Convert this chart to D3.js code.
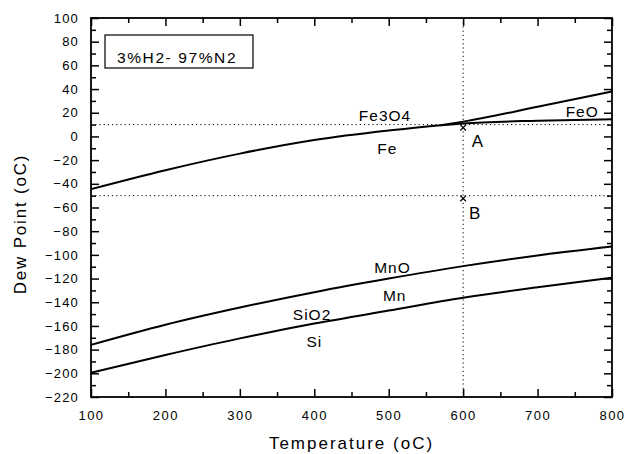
<!DOCTYPE html>
<html>
<head>
<meta charset="utf-8">
<script src="https://cdn.jsdelivr.net/npm/d3@7"></script>
<style>
  body { margin: 0; background: #fff; }
  svg { font-family: "Liberation Sans", Arial, sans-serif; }
</style>
</head>
<body>
<svg id="chart" width="625" height="454"></svg>
<script>
// boundary lines (temperature oC -> dew point oC)
var feFe3o4T   = [100, 200, 300, 400, 500, 570];
var feFe3o4DP  = [-44.5, -28.5, -14.5, -3, 5, 9.5];
var fe3o4FeoT  = [570, 600, 700, 800];
var fe3o4FeoDP = [9.5, 12.5, 25, 38];
var feFeoT     = [570, 600, 700, 800];
var feFeoDP    = [9.5, 11, 13.3, 14.5];
var mnT        = [100, 200, 300, 400, 500, 600, 700, 800];
var mnDP       = [-176, -159, -144.5, -131.5, -120, -109.5, -100.5, -93];
var siT        = [100, 200, 300, 400, 500, 600, 700, 800];
var siDP       = [-199.5, -184.5, -170.5, -158, -147, -136.2, -127.3, -119.3];

var refLinesDP = [10, -50];
var refLineT = 600;
var markers = [ { t: 600, dp: 7.4 }, { t: 600, dp: -52.3 } ];

var labels = [
  { text: "Fe3O4", t: 495, dp: 13.3, size: 15.5 },
  { text: "Fe",    t: 498, dp: -14.9, size: 15.5 },
  { text: "FeO",   t: 760, dp: 16.4, size: 15.5 },
  { text: "A",     t: 620, dp: -8.7, size: 17 },
  { text: "B",     t: 616, dp: -69.8, size: 17 },
  { text: "MnO",   t: 505, dp: -115.6, size: 15.5 },
  { text: "Mn",    t: 508, dp: -139, size: 15.5 },
  { text: "SiO2",  t: 397, dp: -155, size: 15.5 },
  { text: "Si",    t: 400, dp: -177.6, size: 15.5 }
];

var xTicks = [100, 200, 300, 400, 500, 600, 700, 800];
var yTicks = d3.range(-220, 101, 20);

var plotL = 91, plotR = 612, plotT = 18, plotB = 397;
var svg = d3.select("#chart");

var x = d3.scaleLinear().domain([100, 800]).range([plotL, plotR]);
var y = d3.scaleLinear().domain([-220, 100]).range([plotB, plotT]);

// reference dotted lines
svg.selectAll(".hline").data(refLinesDP).enter().append("line")
  .attr("x1", plotL).attr("x2", plotR)
  .attr("y1", d => y(d)).attr("y2", d => y(d))
  .attr("stroke", "#000").attr("stroke-width", 1)
  .attr("stroke-dasharray", "1.2,3");
svg.append("line")
  .attr("x1", x(refLineT)).attr("x2", x(refLineT))
  .attr("y1", plotT).attr("y2", plotB)
  .attr("stroke", "#000").attr("stroke-width", 1)
  .attr("stroke-dasharray", "1.2,3");

// axes: major and minor ticks, all pointing inward
function drawAxis(axisFn, scale, vals, minorVals, tf, showLabels) {
  var g = svg.append("g").attr("transform", tf)
    .call(axisFn(scale).tickValues(vals).tickSize(-8).tickPadding(showLabels ? 14 : 0)
      .tickFormat(showLabels ? d3.format("d") : ""));
  g.select(".domain").remove();
  g.selectAll("line").attr("stroke", "#000").attr("stroke-width", 1.5);
  var gm = svg.append("g").attr("transform", tf)
    .call(axisFn(scale).tickValues(minorVals).tickSize(-5).tickFormat(""));
  gm.select(".domain").remove();
  gm.selectAll("line").attr("stroke", "#000").attr("stroke-width", 1.5);
  return g;
}
var xMinor = d3.range(150, 800, 100);
var yMinor = d3.range(-210, 100, 20);

var gx = drawAxis(d3.axisBottom, x, xTicks, xMinor, "translate(0," + plotB + ")", true);
gx.selectAll("text").attr("font-size", 13).attr("letter-spacing", 1.5)
  .attr("font-family", "Liberation Sans, Arial, sans-serif").attr("fill", "#000");
drawAxis(d3.axisTop, x, xTicks, xMinor, "translate(0," + plotT + ")", false);
var gy = drawAxis(d3.axisLeft, y, yTicks, yMinor, "translate(" + plotL + ",0)", true);
gy.selectAll("text").attr("font-size", 13).attr("letter-spacing", 1.2)
  .attr("font-family", "Liberation Sans, Arial, sans-serif").attr("fill", "#000")
  .attr("dx", 2);
drawAxis(d3.axisRight, y, yTicks, yMinor, "translate(" + plotR + ",0)", false);

// frame
svg.append("rect")
  .attr("x", plotL).attr("y", plotT)
  .attr("width", plotR - plotL).attr("height", plotB - plotT)
  .attr("fill", "none").attr("stroke", "#000").attr("stroke-width", 1.8);

// boundary curves
var line = d3.line()
  .x(d => x(d[0]))
  .y(d => y(d[1]))
  .curve(d3.curveMonotoneX);

var series = [
  [feFe3o4T, feFe3o4DP],
  [fe3o4FeoT, fe3o4FeoDP],
  [feFeoT, feFeoDP],
  [mnT, mnDP],
  [siT, siDP]
];
svg.selectAll(".curve").data(series).enter().append("path")
  .attr("d", s => line(d3.zip(s[0], s[1])))
  .attr("fill", "none")
  .attr("stroke", "#000")
  .attr("stroke-width", 2);

// x markers
svg.selectAll(".mark").data(markers).enter().append("path")
  .attr("transform", d => "translate(" + x(d.t) + "," + y(d.dp) + ")")
  .attr("d", d3.symbol().type(d3.symbolX).size(22))
  .attr("fill", "none").attr("stroke", "#000").attr("stroke-width", 1.3);

// phase labels
svg.selectAll(".lbl").data(labels).enter().append("text")
  .attr("x", d => x(d.t)).attr("y", d => y(d.dp))
  .attr("text-anchor", "middle")
  .attr("font-size", d => d.size)
  .attr("letter-spacing", 1)
  .text(d => d.text);

// gas composition box
svg.append("rect")
  .attr("x", 105).attr("y", 35).attr("width", 148).attr("height", 33)
  .attr("fill", "#fff").attr("stroke", "#000").attr("stroke-width", 1.2);
svg.append("text")
  .attr("x", 117).attr("y", 62.5)
  .attr("font-size", 15.5).attr("letter-spacing", 1.6)
  .text("3%H2- 97%N2");

// axis titles
svg.append("text")
  .attr("x", (plotL + plotR) / 2).attr("y", 449)
  .attr("text-anchor", "middle")
  .attr("font-size", 17).attr("letter-spacing", 2)
  .text("Temperature (oC)");
svg.append("text")
  .attr("transform", "translate(26,224) rotate(-90)")
  .attr("text-anchor", "middle")
  .attr("font-size", 17).attr("letter-spacing", 1.8)
  .text("Dew Point (oC)");
</script>
</body>
</html>
